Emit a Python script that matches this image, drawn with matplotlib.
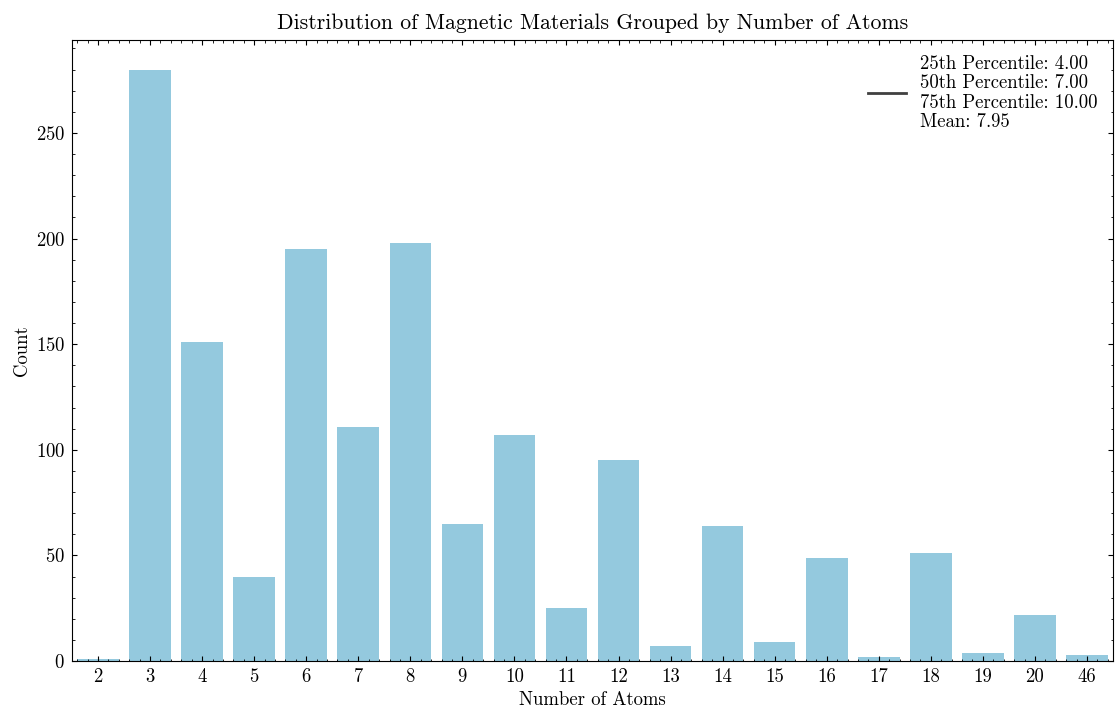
import matplotlib
matplotlib.use("Agg")
import matplotlib.pyplot as plt
from matplotlib.ticker import AutoMinorLocator
from matplotlib.lines import Line2D

atoms = ["2", "3", "4", "5", "6", "7", "8", "9", "10", "11", "12", "13", "14",
         "15", "16", "17", "18", "19", "20", "46"]
counts = [1, 280, 151, 40, 195, 111, 198, 65, 107, 25, 95, 7, 64, 9, 49, 2, 51, 4, 22, 3]
legend_text = ("25th Percentile: 4.00\n50th Percentile: 7.00\n"
               "75th Percentile: 10.00\nMean: 7.95")

plt.rcParams.update({
    "font.family": "serif",
    "font.serif": ["cmr10", "DejaVu Serif"],
    "mathtext.fontset": "cm",
    "axes.formatter.use_mathtext": True,
    "axes.unicode_minus": False,
    "xtick.direction": "in",
    "ytick.direction": "in",
    "xtick.top": True,
    "ytick.right": True,
    "xtick.minor.visible": True,
    "ytick.minor.visible": True,
    "xtick.major.size": 3.6,
    "ytick.major.size": 3.6,
    "xtick.minor.size": 1.8,
    "ytick.minor.size": 1.8,
    "xtick.major.width": 0.8,
    "ytick.major.width": 0.8,
    "xtick.minor.width": 0.6,
    "ytick.minor.width": 0.6,
    "axes.linewidth": 0.8,
})

fig = plt.figure(figsize=(11.15, 7.09), dpi=100)
ax = fig.add_axes([72 / 1115, 1 - 661 / 709, (1113 - 72) / 1115, (661 - 40) / 709])

pos = list(range(len(atoms)))
ax.bar(pos, counts, width=0.8, color="#94C9DE")
ax.set_xlim(-0.5, len(atoms) - 0.5)
ax.set_xticks(pos)
ax.set_xticklabels(atoms)
ax.xaxis.set_minor_locator(AutoMinorLocator(5))
ax.yaxis.set_minor_locator(AutoMinorLocator(5))
ax.tick_params(axis="both", labelsize=13.5, pad=5)

ax.set_xlabel("Number of Atoms", fontsize=13.5, labelpad=3.5)
ax.set_ylabel("Count", fontsize=13.5, labelpad=3.5)
ax.set_title("Distribution of Magnetic Materials Grouped by Number of Atoms", fontsize=15.7, pad=8)

handle = Line2D([], [], color="#404040", linewidth=2)
leg = ax.legend([handle], [legend_text], loc="upper right", frameon=False, fontsize=13.5,
                handlelength=2.0, borderaxespad=0.4)
for t in leg.get_texts():
    t.set_linespacing(1.1)

fig.savefig("out.png", dpi=100)
